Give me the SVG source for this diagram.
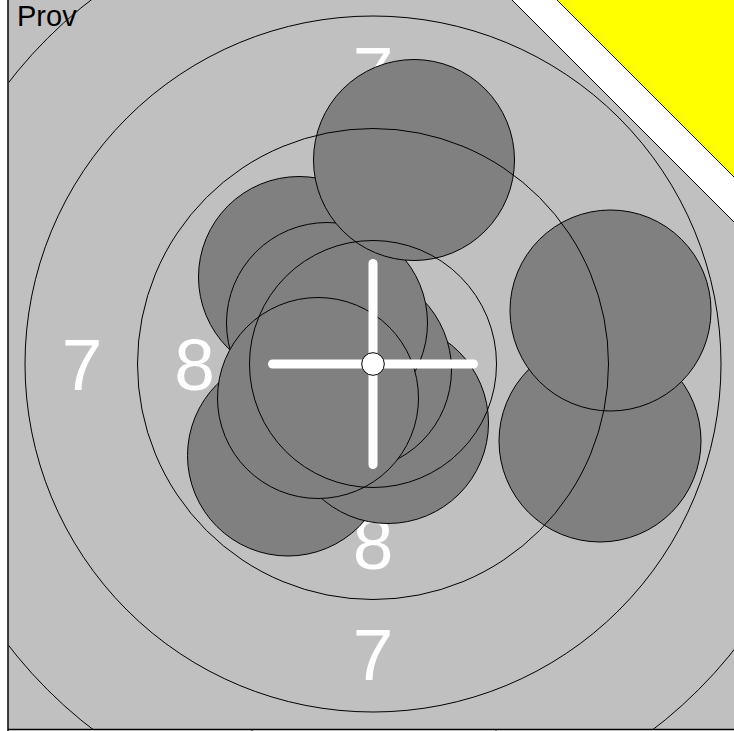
<svg xmlns="http://www.w3.org/2000/svg" width="734" height="731" viewBox="0 0 734 731">
<style>
.lbl{font-family:"Liberation Sans",Arial,sans-serif;font-size:73px;fill:#ffffff;text-anchor:middle}
.shot{fill:#808080;stroke:#000000;stroke-width:1}
.ring{fill:none;stroke:#000000;stroke-width:1}
.cross{stroke:#ffffff;stroke-width:9;stroke-linecap:round}
</style>
<defs>
<clipPath id="field">
<polygon points="9,0 512,0 734,222 734,729 9,729"/>
</clipPath>
</defs>
<rect x="0" y="0" width="734" height="731" fill="#ffffff"/>
<g id="board">
<rect x="8.5" y="0" width="726" height="729" fill="#c0c0c0"/>
<polygon points="512,0 734,0 734,222" fill="#ffffff"/>
<polygon points="557,0 734,0 734,177" fill="#ffff00"/>
<line x1="512" y1="0" x2="734" y2="222" stroke="#000" stroke-width="1"/>
<line x1="557" y1="0" x2="734" y2="177" stroke="#000" stroke-width="1"/>
<line x1="8" y1="0" x2="8" y2="731" stroke="#000" stroke-width="1.5"/>
<line x1="8" y1="729.5" x2="734" y2="729.5" stroke="#000" stroke-width="1.5"/>
<line x1="252" y1="729" x2="252" y2="731" stroke="#000" stroke-width="1"/>
<line x1="496" y1="729" x2="496" y2="731" stroke="#000" stroke-width="1"/>
</g>
<g id="labels">
<text class="lbl" x="82" y="389.5">7</text>
<text class="lbl" x="194.5" y="389.5">8</text>
<text class="lbl" x="373" y="98">7</text>
<text class="lbl" x="373" y="569">8</text>
<text class="lbl" x="373" y="680">7</text>
</g>
<g id="shots">
<circle id="shot-c" class="shot" cx="600" cy="441" r="101"/>
<circle id="shot-b" class="shot" cx="610.5" cy="310.5" r="100.5"/>
<circle id="shot-g" class="shot" cx="288" cy="455.5" r="100.5"/>
<circle id="shot-h" class="shot" cx="388" cy="423" r="100.5"/>
<circle id="shot-i" class="shot" cx="351" cy="370" r="100.5"/>
<circle id="shot-d" class="shot" cx="299" cy="277" r="100.5"/>
<circle id="shot-e" class="shot" cx="327" cy="323" r="100.5"/>
<circle id="shot-f" class="shot" cx="318" cy="398" r="100.5"/>
<circle id="shot-a" class="shot" cx="414" cy="160" r="100.5"/>
</g>
<g id="rings" clip-path="url(#field)">
<circle class="ring" cx="373" cy="364" r="123.5"/>
<circle class="ring" cx="373" cy="364" r="235.5"/>
<circle class="ring" cx="373" cy="364" r="348"/>
<circle class="ring" cx="373" cy="364" r="460.5"/>
</g>
<g id="crosshair">
<line class="cross" x1="272.5" y1="364" x2="473.5" y2="364"/>
<line class="cross" x1="373" y1="263.5" x2="373" y2="464.5"/>
<circle cx="373" cy="364" r="11.3" fill="#ffffff" stroke="#000000" stroke-width="1"/>
</g>
<text x="17" y="26" font-family="Liberation Sans, Arial, sans-serif" font-size="29" fill="#000000">Prov</text>
</svg>
